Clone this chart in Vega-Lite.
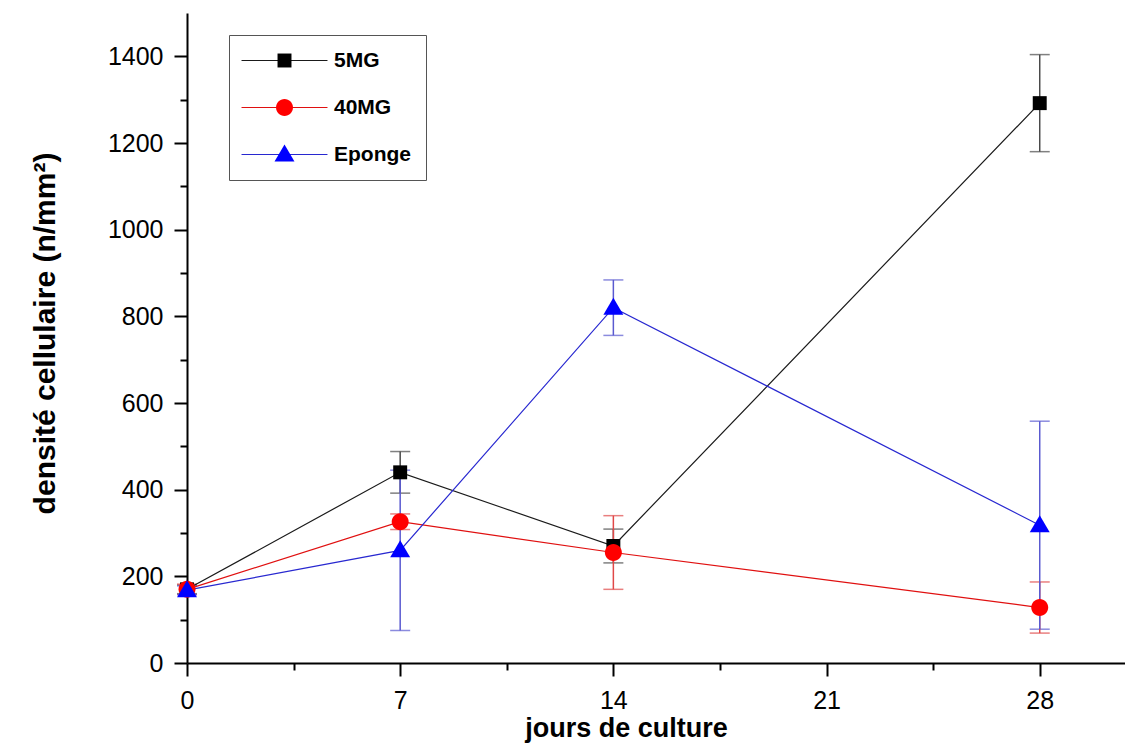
{
  "$schema": "https://vega.github.io/schema/vega-lite/v6.json",
  "width": 938,
  "height": 650,
  "autosize": "none",
  "padding": {"left": 187, "top": 13, "right": 0, "bottom": 92},
  "background": "white",
  "config": {
    "font": "Liberation Sans",
    "view": {"stroke": null},
    "axis": {"grid": false},
    "legend": {
      "orient": "none",
      "legendX": 42,
      "legendY": 22,
      "padding": 15,
      "title": null,
      "labelFont": "Liberation Sans",
      "labelFontSize": 21,
      "labelFontWeight": "bold",
      "labelColor": "black",
      "symbolSize": 225,
      "symbolOffset": 30,
      "labelOffset": 39,
      "rowPadding": 25
    }
  },
  "data": {
    "values": [
      {"serie": "5MG", "jour": 0, "v": 170, "sd": 10},
      {"serie": "5MG", "jour": 7, "v": 440, "sd": 48},
      {"serie": "5MG", "jour": 14, "v": 270, "sd": 39},
      {"serie": "5MG", "jour": 28, "v": 1292, "sd": 112},
      {"serie": "40MG", "jour": 0, "v": 170, "sd": 12},
      {"serie": "40MG", "jour": 7, "v": 326, "sd": 18},
      {"serie": "40MG", "jour": 14, "v": 255, "sd": 85},
      {"serie": "40MG", "jour": 28, "v": 128, "sd": 59},
      {"serie": "Eponge", "jour": 0, "v": 168, "sd": 10},
      {"serie": "Eponge", "jour": 7, "v": 260, "sd": 185},
      {"serie": "Eponge", "jour": 14, "v": 820, "sd": 64},
      {"serie": "Eponge", "jour": 28, "v": 318, "sd": 240}
    ]
  },
  "encoding": {
    "x": {
      "field": "jour",
      "type": "quantitative",
      "scale": {"domain": [0, 30.8], "nice": false, "zero": false},
      "axis": {
        "values": [0, 3.5, 7, 10.5, 14, 17.5, 21, 24.5, 28],
        "labelExpr": "datum.value % 7 == 0 ? datum.label : ''",
        "tickSize": {"condition": {"test": "datum.value % 7 == 0", "value": 13}, "value": 7},
        "tickWidth": 2,
        "tickColor": "black",
        "domainWidth": 2,
        "domainColor": "black",
        "labelFontSize": 25,
        "labelColor": "black",
        "labelPadding": 12,
        "labelFlush": false,
        "labelOverlap": false,
        "labelBound": false,
        "title": "jours de culture",
        "titleFontSize": 27,
        "titleFontWeight": "bold",
        "titleColor": "black",
        "titleX": 439,
        "titleY": 73,
        "titleAlign": "center",
        "titleBaseline": "alphabetic"
      }
    },
    "y": {
      "field": "v",
      "type": "quantitative",
      "scale": {"domain": [0, 1500], "nice": false},
      "axis": {
        "values": [0, 100, 200, 300, 400, 500, 600, 700, 800, 900, 1000, 1100, 1200, 1300, 1400],
        "format": "d",
        "labelExpr": "datum.value % 200 == 0 ? datum.label : ''",
        "tickSize": {"condition": {"test": "datum.value % 200 == 0", "value": 13}, "value": 7},
        "tickWidth": 2,
        "tickColor": "black",
        "domainWidth": 2,
        "domainColor": "black",
        "labelFontSize": 25,
        "labelColor": "black",
        "labelPadding": 11,
        "labelOverlap": false,
        "labelFlush": false,
        "labelBound": false,
        "title": "densité cellulaire (n/mm²)",
        "titleFontSize": 30,
        "titleFontWeight": "bold",
        "titleColor": "black",
        "titleAngle": 270,
        "titleX": -142,
        "titleY": 320,
        "titleAlign": "center",
        "titleBaseline": "middle"
      }
    }
  },
  "layer": [
    {
      "mark": {"type": "errorbar", "ticks": {"size": 20, "thickness": 1.5}, "thickness": 1.5},
      "encoding": {
        "y": {"field": "v", "type": "quantitative"},
        "yError": {"field": "sd"},
        "color": {
          "field": "serie",
          "type": "nominal",
          "scale": {"domain": ["5MG", "40MG", "Eponge"], "range": ["#4a4a4a", "#e04848", "#5a5ad0"]},
          "legend": null
        }
      }
    },
    {
      "mark": {"type": "line", "strokeWidth": 1.2},
      "encoding": {
        "color": {
          "field": "serie",
          "type": "nominal",
          "scale": {"domain": ["5MG", "40MG", "Eponge"], "range": ["#1a1a1a", "#e01010", "#2828d0"]},
          "legend": {
            "symbolType": "M-5.73,0H5.73",
            "symbolStrokeWidth": 1.2,
            "labelOpacity": 0
          }
        }
      }
    },
    {
      "mark": {"type": "point", "filled": true, "opacity": 1, "size": 225},
      "encoding": {
        "color": {
          "field": "serie",
          "type": "nominal",
          "scale": {"domain": ["5MG", "40MG", "Eponge"], "range": ["#000000", "#ff0000", "#0000ff"]},
          "legend": {"strokeColor": "#555555"}
        },
        "shape": {
          "field": "serie",
          "type": "nominal",
          "scale": {
            "domain": ["5MG", "40MG", "Eponge"],
            "range": [
              "M-0.93,-0.93H0.93V0.93H-0.93Z",
              "M-1.13,0A1.13,1.13,0,1,1,1.13,0A1.13,1.13,0,1,1,-1.13,0Z",
              "M0,-1.33L1.33,0.93L-1.33,0.93Z"
            ]
          },
          "legend": {"strokeColor": "#555555"}
        }
      }
    }
  ],
  "resolve": {
    "scale": {"color": "independent", "shape": "independent"},
    "legend": {"color": "independent", "shape": "independent"}
  }
}
